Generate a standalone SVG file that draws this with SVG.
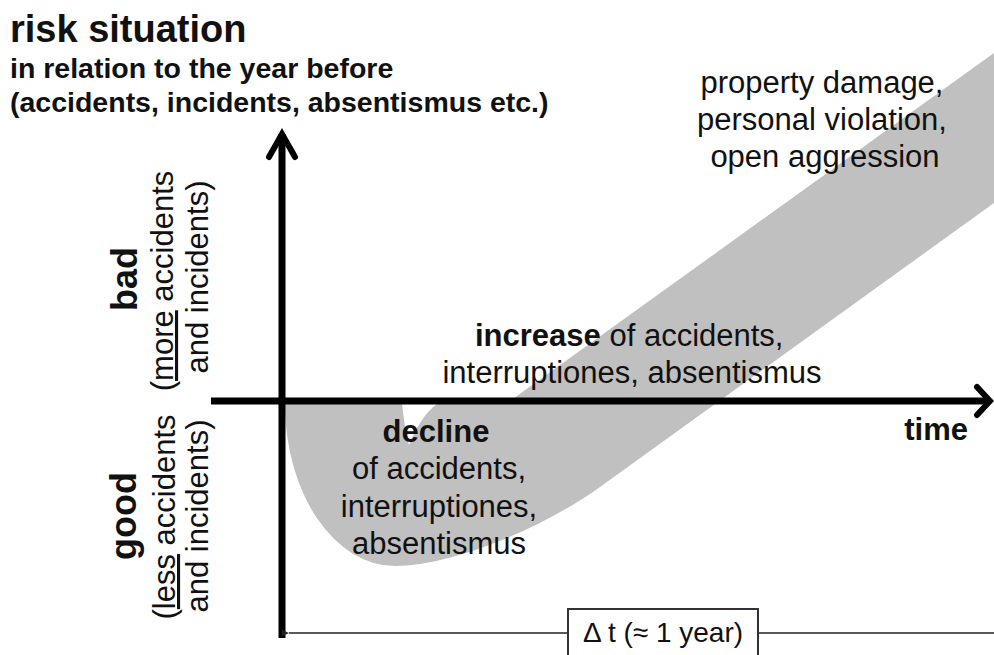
<svg xmlns="http://www.w3.org/2000/svg" width="994" height="655" viewBox="0 0 994 655">
<style>
text{font-family:"Liberation Sans",Arial,Helvetica,sans-serif;fill:#111}
.b{font-weight:bold}
.t31{font-size:31px}
.axis{stroke:#000;stroke-width:7;fill:none}
.head{stroke:#000;stroke-width:6;fill:none;stroke-linecap:round;stroke-linejoin:miter}
.dim{stroke:#222;stroke-width:1.6;fill:none}
</style>
<defs>
<marker id="arrL" viewBox="0 0 10 10" refX="0" refY="5" markerWidth="9" markerHeight="7" markerUnits="userSpaceOnUse" orient="auto-start-reverse">
<path d="M0 5 L10 0.5 L10 9.5 Z" fill="#222"/>
</marker>
</defs>
<rect width="994" height="655" fill="#fff"/>

<g id="band">
<path d="M994 53 L994 203 L600 487 C540 530 450 566 395 566 A110 162 0 0 1 285 404 L402 404 C404 420 406 435 409 445 C415 430 425 412 437 404 L510 401 Z" fill="#c0c0c0"/>
</g>

<g id="title">
<text x="10" y="42" class="b" font-size="38">risk situation</text>
<text x="10" y="78" class="b" font-size="28.5">in relation to the year before</text>
<text x="10" y="112" class="b" font-size="28.5">(accidents, incidents, absentismus etc.)</text>
</g>

<g id="connectors">
<line class="axis" x1="282" y1="638" x2="282" y2="134"/>
<path class="head" d="M269 157 L282 134 L295 157"/>
<line class="axis" x1="211" y1="401" x2="989" y2="401"/>
<path class="head" d="M977 387 L990 401 L977 415"/>
<line class="dim" x1="994" y1="633" x2="289" y2="633" marker-end="url(#arrL)"/>
</g>

<g id="bad-label">
<text transform="translate(137,279) rotate(-90)" text-anchor="middle" class="b" font-size="36">bad</text>
<text transform="translate(173,281) rotate(-90)" text-anchor="middle" class="t31">(<tspan style="text-decoration:underline">more</tspan> accidents</text>
<text transform="translate(208,277) rotate(-90)" text-anchor="middle" class="t31">and incidents)</text>
</g>

<g id="good-label">
<text transform="translate(136,516) rotate(-90)" text-anchor="middle" class="b" font-size="36">good</text>
<text transform="translate(175,517) rotate(-90)" text-anchor="middle" class="t31">(<tspan style="text-decoration:underline">less</tspan> accidents</text>
<text transform="translate(208,516) rotate(-90)" text-anchor="middle" class="t31">and incidents)</text>
</g>

<g id="property-label">
<text x="822" y="93" text-anchor="middle" class="t31">property damage,</text>
<text x="822" y="130" text-anchor="middle" class="t31">personal violation,</text>
<text x="825" y="167" text-anchor="middle" class="t31">open aggression</text>
</g>

<g id="increase-label">
<text x="475" y="346" class="t31"><tspan class="b">increase</tspan> of accidents,</text>
<text x="632" y="383" text-anchor="middle" class="t31">interruptiones, absentismus</text>
</g>

<g id="decline-label">
<text x="436" y="442" text-anchor="middle" class="t31 b">decline</text>
<text x="439" y="479" text-anchor="middle" class="t31">of accidents,</text>
<text x="439" y="517" text-anchor="middle" class="t31">interruptiones,</text>
<text x="439" y="554" text-anchor="middle" class="t31">absentismus</text>
</g>

<g id="time-label">
<text x="968" y="440" text-anchor="end" class="t31 b">time</text>
</g>

<g id="delta-box">
<rect x="568" y="609" width="190" height="50" fill="#fff" stroke="#333" stroke-width="2"/>
<text x="663" y="642" text-anchor="middle" font-size="28">Δ t (≈ 1 year)</text>
</g>
</svg>
